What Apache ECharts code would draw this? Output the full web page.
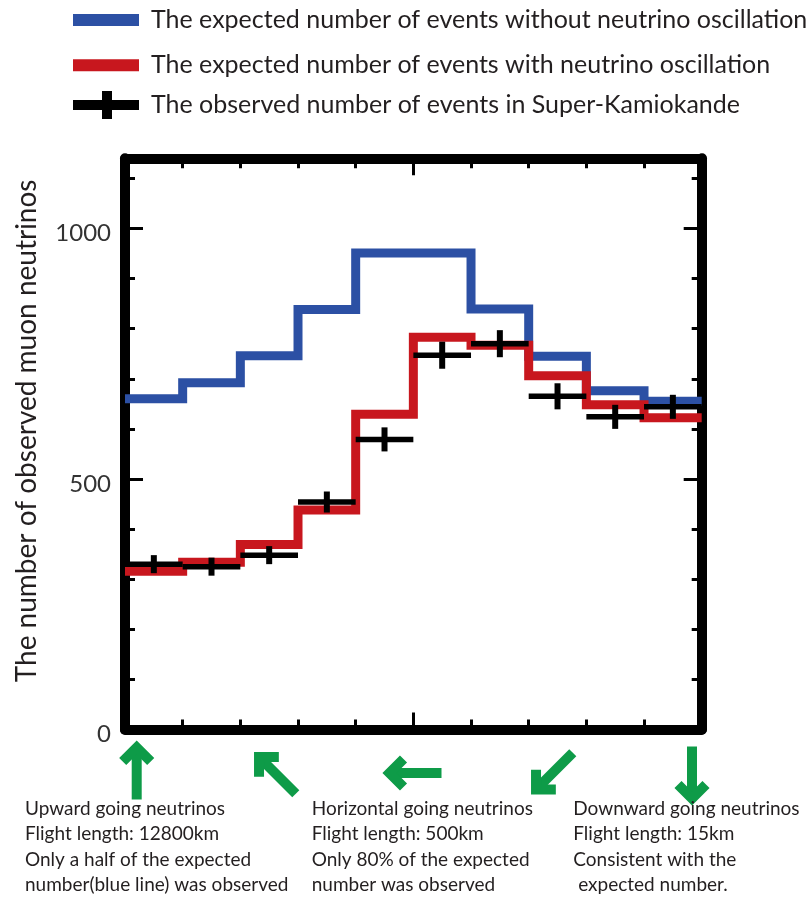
<!DOCTYPE html>
<html>
<head>
<meta charset="utf-8">
<script src="https://cdn.jsdelivr.net/npm/echarts@6/dist/echarts.min.js"></script>
<style>html,body{margin:0;padding:0;background:#fff;}#c{width:810px;height:906px;}</style>
</head>
<body>
<div id="c"></div>
<script>
// ---- data ----
const binEdges = [0, 1, 2, 3, 4, 5, 6, 7, 8, 9, 10];
const yTicks = [0, 500, 1000];
const expectedNoOsc = [660, 692, 746, 838, 951, 951, 839, 745, 676, 655];
const expectedOsc = [316, 334, 369, 438, 629, 783, 767, 706, 648, 622];
const observed = [330, 325, 348, 454, 579, 747, 770, 665, 624, 644];
const observedErr = [18, 18, 18, 21, 24, 27, 27, 26, 24, 24];
const seriesNames = [
  'The expected number of events without neutrino oscillation',
  'The expected number of events with neutrino oscillation',
  'The observed number of events in Super-Kamiokande'
];
const yTitle = 'The number of observed muon neutrinos';
const notes = [
  ['Upward going neutrinos', 'Flight length: 12800km', 'Only a half of the expected', 'number(blue line) was observed'],
  ['Horizontal going neutrinos', 'Flight length: 500km', 'Only 80% of the expected', 'number was observed'],
  ['Downward going neutrinos', 'Flight length: 15km', 'Consistent with the', ' expected number.']
];

// ---- styles ----
const FONT = 'Lato, "Open Sans", sans-serif';
const TXT = '#231f20';
const BLUE = '#2c50a4';
const RED = '#c8171e';
const GREEN = '#0e9b48';
const yMax = 1140;

function stepData(vals) {
  const d = vals.map((v, i) => [binEdges[i], v]);
  d.push([binEdges[vals.length], vals[vals.length - 1]]);
  return d;
}

function arrow(cx, cy, rot) {
  return {
    type: 'group', x: cx, y: cy, rotation: rot,
    children: [
      { type: 'polyline', shape: { points: [[0, -24], [0, 28]] },
        style: { stroke: GREEN, lineWidth: 10, fill: null, lineCap: 'butt' } },
      { type: 'polyline', shape: { points: [[-14, -10], [0, -24], [14, -10]] },
        style: { stroke: GREEN, lineWidth: 10, fill: null, lineJoin: 'miter', lineCap: 'butt' } }
    ]
  };
}

function note(x, lines) {
  return {
    type: 'text', x: x, y: 796,
    style: { text: lines.join('\n'), font: '19px ' + FONT, fill: TXT, lineHeight: 25.5 }
  };
}

const baseAxis = {
  type: 'value', min: 0, axisLabel: { show: false }, splitLine: { show: false }
};
const lineAxis = { show: true, onZero: false, lineStyle: { color: '#000', width: 10 } };
const noLine = { show: false, onZero: false };

function xAx(pos, interval, len, showLine) {
  return Object.assign({}, baseAxis, {
    position: pos, max: 10, interval: interval,
    axisLine: showLine ? lineAxis : noLine,
    axisTick: { show: true, inside: true, length: len, lineStyle: { color: '#000', width: 3 } }
  });
}
function yAx(pos, interval, len, showLine) {
  return Object.assign({}, baseAxis, {
    position: pos, max: yMax, interval: interval,
    axisLine: showLine ? lineAxis : noLine,
    axisTick: { show: true, inside: true, length: len, lineStyle: { color: '#000', width: 3 } }
  });
}

const yLabelAxis = yAx('left', 500, 18, false);
yLabelAxis.axisLabel = {
  show: true, margin: 14, fontFamily: FONT, fontSize: 24, color: '#333',
  verticalAlign: 'top', lineHeight: 10, showMaxLabel: false,
  formatter: v => (yTicks.indexOf(v) >= 0 ? String(v) : '')
};
yLabelAxis.name = yTitle;
yLabelAxis.nameLocation = 'middle';
yLabelAxis.nameRotate = 90;
yLabelAxis.nameGap = 84;
yLabelAxis.nameTextStyle = { fontFamily: FONT, fontSize: 28, color: TXT, padding: [0, 0, 0, 26] };

function legendRow(top, name, icon, h, color) {
  return {
    left: 73, top: top, padding: 0, itemWidth: 66, itemHeight: h, itemGap: 10, selectedMode: false,
    textStyle: { fontFamily: FONT, fontSize: 25, color: TXT, lineHeight: 24, padding: [6, 0, 0, 7] },
    data: [{ name: name, icon: icon, itemStyle: { color: color } }]
  };
}

const chart = echarts.init(document.getElementById('c'), null, { renderer: 'canvas' });
chart.setOption({
  animation: false,
  backgroundColor: '#fff',
  legend: [
    legendRow(5, seriesNames[0], 'rect', 12, BLUE),
    legendRow(50.3, seriesNames[1], 'rect', 12, RED),
    legendRow(90, seriesNames[2], 'path://M0,9L29,9L29,0L39,0L39,9L66,9L66,19L39,19L39,28L29,28L29,19L0,19Z', 28, '#000')
  ],
  grid: { left: 125, right: 108.3, top: 158.3, bottom: 176.5, outerBoundsMode: 'none' },
  xAxis: [
    xAx('bottom', 1, 10, true),
    xAx('top', 1, 10, true),
    xAx('bottom', 5, 17, false),
    xAx('top', 5, 17, false)
  ],
  yAxis: [
    yAx('left', 100, 10, true),
    yLabelAxis,
    yAx('right', 100, 10, true),
    yAx('right', 500, 18, false)
  ],
  series: [
    {
      name: seriesNames[0], type: 'line', step: 'end', data: stepData(expectedNoOsc),
      showSymbol: false, symbol: 'none', z: 3, color: BLUE,
      lineStyle: { color: BLUE, width: 9, cap: 'butt', join: 'miter' }
    },
    {
      name: seriesNames[1], type: 'line', step: 'end', data: stepData(expectedOsc),
      showSymbol: false, symbol: 'none', z: 4, color: RED,
      lineStyle: { color: RED, width: 9, cap: 'butt', join: 'miter' }
    },
    {
      name: seriesNames[2], type: 'custom', z: 5, itemStyle: { color: '#000' },
      data: observed.map((v, i) => [binEdges[i], v, observedErr[i], binEdges[i + 1]]),
      renderItem: function (params, api) {
        const x0 = api.value(0), v = api.value(1), e = api.value(2), x1 = api.value(3);
        const pL = api.coord([x0, v]), pR = api.coord([x1, v]);
        const pT = api.coord([(x0 + x1) / 2, v + e]), pB = api.coord([(x0 + x1) / 2, v - e]);
        return {
          type: 'group', children: [
            { type: 'line', shape: { x1: pL[0], y1: pL[1], x2: pR[0], y2: pR[1] },
              style: { stroke: '#000', lineWidth: 5.5 } },
            { type: 'line', shape: { x1: pT[0], y1: pT[1], x2: pB[0], y2: pB[1] },
              style: { stroke: '#000', lineWidth: 6 } }
          ]
        };
      }
    }
  ],
  graphic: [
    arrow(136.7, 771.5, 0),
    arrow(276, 774, Math.PI / 4),
    arrow(413.5, 773, Math.PI / 2),
    arrow(553, 772.5, Math.PI * 3 / 4),
    arrow(692, 774.5, Math.PI),
    note(25, notes[0]),
    note(311.7, notes[1]),
    note(573.3, notes[2])
  ]
});
</script>
</body>
</html>
